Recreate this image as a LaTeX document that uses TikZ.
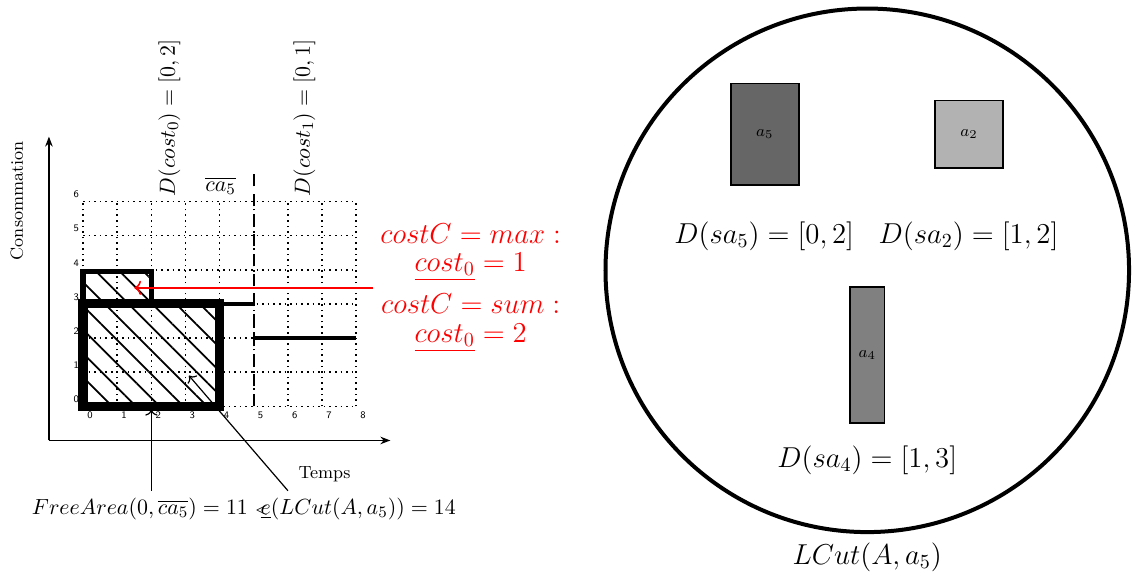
\documentclass[tikz,border=0pt]{standalone}
\usepackage{amsmath}
\usepackage{tikz}
\usetikzlibrary{arrows.meta, positioning, patterns.meta}

\begin{document}
\begin{tikzpicture}[
  axis/.style={-{Stealth[length=5pt]}, thick},
  griddots/.style={dotted, thick},
  tick/.style={font=\sffamily\tiny},
  axislabel/.style={font=\fontsize{8.8}{10}\selectfont},
  chartlabel/.style={font=\fontsize{11}{13}\selectfont},
  hatch/.style={pattern={Lines[angle=-45, distance=8.4pt, line width=0.9pt]}},
  cutbox/.style={draw, hatch, line width=4.6pt},
  prevbox/.style={draw, hatch, line width=2.8pt},
  profile/.style={line width=1.8pt},
  period/.style={line width=1pt, dash pattern=on 6pt off 4pt},
  pointer/.style={->, semithick},
  costarrow/.style={->, thick, red},
  costlabel/.style={text=red, align=center, font=\fontsize{13.7}{14.2}\selectfont},
  task/.style={draw, thick, inner sep=0pt, font=\fontsize{8}{9}\selectfont},
  domlabel/.style={font=\fontsize{13.6}{16}\selectfont, anchor=base},
  cutshape/.style={draw, circle, line width=2pt, minimum size=9.2cm, inner sep=0pt}
]
\useasboundingbox (0,0) rectangle (19.98,10.18);

% Left: consumption profile of the cut
\begin{scope}[shift={(1.46,3.04)}, x=0.6cm, y=0.6cm]
  \foreach \i in {0,...,8}
    \draw[griddots] (\i,0) -- (\i,6);
  \foreach \j in {0,...,6}
    \draw[griddots] (0,\j) -- (8,\j);
  \draw[axis] (-1,-1) -- (9,-1);
  \draw[axis] (-1,-1) -- (-1,7.9);
  \node[axislabel] (temps) at (7.07,-1.99) {Temps};
  \node[axislabel, rotate=90] (conso) at (-1.94,6.02) {Consommation};
  \foreach \i in {0,...,8}
    \node[tick] (tx\i) at (\i+0.2,-0.27) {\i};
  \foreach \j in {0,...,6}
    \node[tick] (ty\j) at (-0.2,\j+0.2) {\j};

  \draw[prevbox] (0,3) rectangle (2,3.95);
  \draw[cutbox] (0,0) rectangle (4,3);
  \draw[period] (5,0) -- (5,7);
  \draw[profile] (4,3) -- (5,3);
  \draw[profile] (5,2) -- (8,2);

  \node[chartlabel, rotate=90] (dcost0) at (2.53,8.45) {$D(cost_0) = [0,2]$};
  \node[chartlabel, rotate=90] (dcost1) at (6.48,8.45) {$D(cost_1) = [0,1]$};
  \node[chartlabel] (ca5) at (4.03,6.46) {$\overline{ca_5}$};

  % cost of the cut
  \node[costlabel, anchor=west] (costC) at (8.5,3.47)
    {$costC = max :$\\ $\underline{cost_0} = 1$\\[5.3pt]
     $costC = sum :$\\ $\underline{cost_0} = 2$};
  \coordinate (prevtip) at (1.5,3.47);
  \draw[costarrow] (costC.west) -- (costC.west -| prevtip);

  % free area
  \node[chartlabel, anchor=base] (area) at (4.71,-3.16)
    {$FreeArea(0,\overline{ca_5}) = 11\ \rlap{$\scriptstyle<$}\kern2.8pt\underline{e}(LCut(A,a_5)) = 14$};
  \coordinate (freetip) at (2,-0.1);
  \coordinate (lcutfoot) at (6,0);
  \coordinate (lcuttip) at (3.1,0.9);
  \draw[pointer] (area.north -| freetip) -- (freetip);
  \draw[pointer] (area.north -| lcutfoot) -- (lcuttip);
\end{scope}

% Right: the cut LCut(A,a5)
\node[cutshape] (lcut) at (15.24,5.43) {};
\node[task, fill=black!60, minimum width=1.19cm, minimum height=1.79cm] (a5) at (13.44,7.82) {$a_5$};
\node[task, fill=black!30, minimum width=1.19cm, minimum height=1.19cm] (a2) at (17.03,7.82) {$a_2$};
\node[task, fill=black!50, minimum width=0.61cm, minimum height=2.39cm] (a4) at (15.24,3.94) {$a_4$};
\node[domlabel] (da5) at (13.43,5.90) {$D(sa_5) = [0,2]$};
\node[domlabel] (da2) at (17.02,5.90) {$D(sa_2) = [1,2]$};
\node[domlabel] (da4) at (15.24,1.97) {$D(sa_4) = [1,3]$};
\node[domlabel] (cutname) at (15.24,0.26) {$LCut(A,a_5)$};

\end{tikzpicture}
\end{document}
